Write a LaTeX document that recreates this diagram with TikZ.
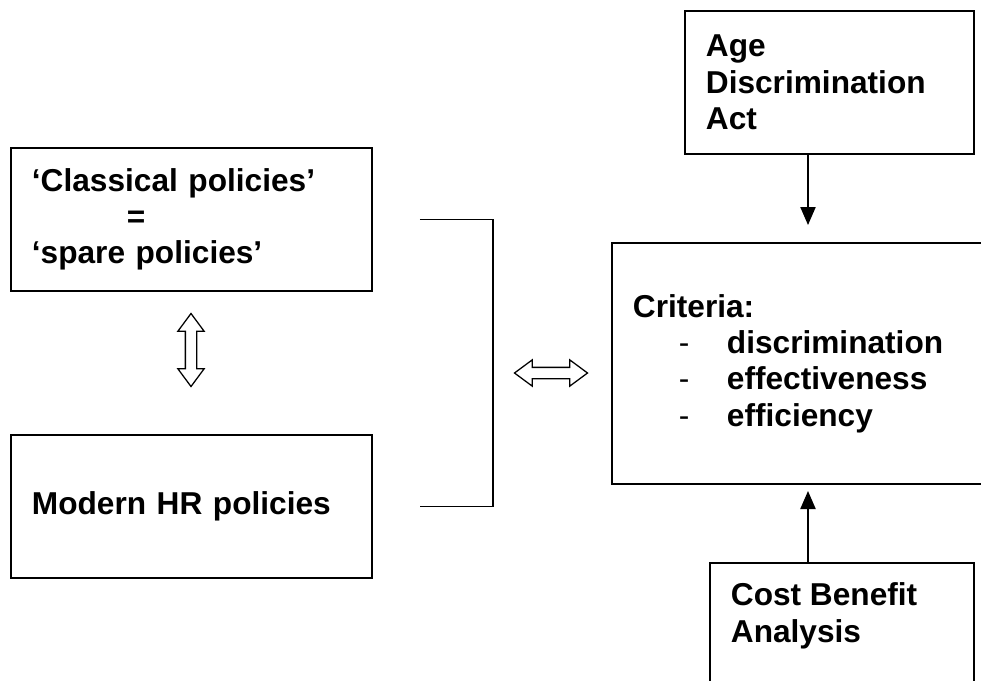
\documentclass[tikz,border=0pt]{standalone}
\usepackage{fontspec}
\setmainfont{Liberation Sans}
\usetikzlibrary{arrows.meta,shapes.arrows,calc}
\tikzset{
  box/.style={draw, line width=1.3pt, anchor=north west, inner xsep=0.525cm, inner ysep=0pt,
    align=left, font=\bfseries\fontsize{22.5}{25.8}\selectfont},
  dblarrow/.style={double arrow, draw, line width=0.9pt, inner sep=0.125cm, minimum width=0.625cm,
    minimum height=1.825cm, double arrow tip angle=73, double arrow head extend=0.1875cm},
  feed/.style={line width=1.1pt, -{Triangle[length=0.45cm,width=0.38cm]}}
}
\newcommand{\critem}[1]{\hspace*{1.15cm}\makebox[1.2cm][l]{\mdseries-}#1}
\begin{document}
\begin{tikzpicture}[x=0.025cm,y=-0.025cm]
   \useasboundingbox (0,0) rectangle (981,680);
   \node[box, text width=7.975cm, minimum height=3.575cm] (classical) at (10,147)
     {‘Classical policies’\\\hspace*{2.375cm}=\\‘spare policies’};
   \node[box, text width=7.975cm, minimum height=3.575cm] (modern) at (10,434) {Modern HR policies};
   \node[box, text width=6.175cm, minimum height=3.575cm] (age) at (684,10) {Age\\Discrimination\\Act};
   \node[box, text width=8.425cm, minimum height=6.025cm] (criteria) at (611,242)
     {Criteria:\\\critem{discrimination}\\\critem{effectiveness}\\\critem{efficiency}};
   \node[box, inner ysep=0.5cm] (cba) at (709,562) {\parbox[t][2.45cm][t]{5.55cm}{Cost Benefit\\Analysis}};
   \node[dblarrow, rotate=90] (vlink) at (191,350) {};
   \node[dblarrow] (hlink) at (551,373) {};
   \draw[line width=1.1pt] ($(classical.east)+(47,0)$) -| ($(modern.east)+(120,0)$) -- ($(modern.east)+(47,0)$);
   \coordinate (agetip) at (808,225);
   \coordinate (cbatip) at (808,491);
   \draw[feed] (agetip |- age.south) -- (agetip);
   \draw[feed] (cbatip |- cba.north) -- (cbatip);
 \end{tikzpicture}
\end{document}
